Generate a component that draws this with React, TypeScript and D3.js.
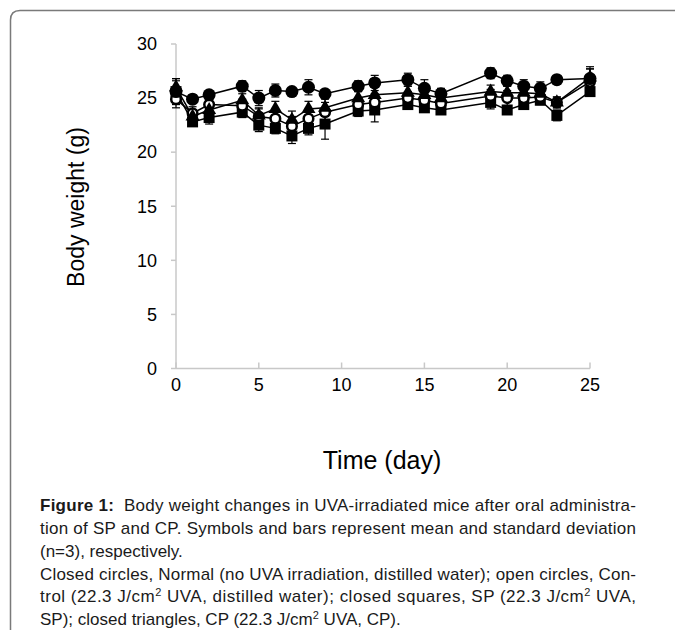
import React from 'react';
import * as d3 from 'd3';

const width = 675;
const height = 630;

const days = [0, 1, 2, 4, 5, 6, 7, 8, 9, 11, 12, 14, 15, 16, 19, 20, 21, 22, 23, 25];
const normal = [25.6, 24.9, 25.3, 26.1, 25.0, 25.7, 25.6, 26.0, 25.4, 26.1, 26.4, 26.7, 25.9, 25.4, 27.3, 26.6, 26.1, 25.9, 26.7, 26.8];
const normalSd = [1.2, 0.4, 0.4, 0.5, 0.7, 0.6, 0.3, 0.7, 0.4, 0.5, 0.7, 0.6, 0.8, 0.5, 0.5, 0.5, 0.6, 0.6, 0.3, 0.9];
const control = [24.9, 23.6, 24.4, 24.3, 23.3, 23.1, 22.4, 23.1, 23.7, 24.4, 24.6, 25.0, 24.8, 24.5, 25.2, 25.0, 25.0, 25.1, 24.6, 26.5];
const controlSd = [0.8, 0.6, 0.7, 0.6, 0.8, 0.7, 0.9, 0.7, 0.9, 0.6, 0.8, 0.6, 0.6, 0.7, 0.6, 0.7, 0.6, 0.6, 0.5, 1.2];
const sp = [25.6, 22.8, 23.2, 23.7, 22.5, 22.2, 21.5, 22.2, 22.6, 23.8, 23.9, 24.4, 24.1, 23.9, 24.6, 23.9, 24.4, 24.8, 23.4, 25.6];
const spSd = [1.0, 0.4, 0.6, 0.5, 0.6, 0.5, 0.7, 0.6, 1.4, 0.5, 1.1, 0.4, 0.4, 0.3, 0.6, 0.4, 0.4, 0.4, 0.5, 0.4];
const cp = [26.0, 23.3, 23.9, 24.8, 23.4, 24.0, 23.0, 24.0, 24.1, 25.0, 25.3, 25.5, 25.3, 25.0, 25.6, 25.5, 25.5, 25.4, 24.6, 26.9];
const cpSd = [0.8, 0.5, 0.5, 0.6, 0.6, 0.7, 0.8, 0.7, 0.8, 0.6, 0.7, 0.6, 0.7, 0.6, 0.6, 0.6, 0.6, 0.7, 0.5, 1.0];

const yTicks = [0, 5, 10, 15, 20, 25, 30];
const xTicks = [0, 5, 10, 15, 20, 25];

const axisColor = '#c8c8c8';
const font = '"Liberation Sans", Arial, sans-serif';
const capFont = '"Liberation Sans Narrow", "Arial Narrow", "Liberation Sans", sans-serif';

const x = d3.scaleLinear().domain([0, 25]).range([176, 590]);
const y = d3.scaleLinear().domain([0, 30]).range([368.5, 44]);

type Series = { name: string; values: number[]; sd: number[]; shape: 'circle' | 'open' | 'square' | 'triangle' };

const series: Series[] = [
  { name: 'SP', values: sp, sd: spSd, shape: 'square' },
  { name: 'Control', values: control, sd: controlSd, shape: 'open' },
  { name: 'CP', values: cp, sd: cpSd, shape: 'triangle' },
  { name: 'Normal', values: normal, sd: normalSd, shape: 'circle' },
];

const line = d3
  .line<number>()
  .x((_, i) => x(days[i]))
  .y((v) => y(v));

function Marker({ shape, cx, cy }: { shape: string; cx: number; cy: number }) {
  if (shape === 'square') {
    return <rect x={cx - 5.5} y={cy - 5.5} width={11} height={11} fill="#000" />;
  }
  if (shape === 'triangle') {
    return <path d={d3.symbol(d3.symbolTriangle, 85)() || ''} transform={`translate(${cx},${cy})`} fill="#000" />;
  }
  if (shape === 'open') {
    return <circle cx={cx} cy={cy} r={4.8} fill="#fff" stroke="#000" strokeWidth={2.5} />;
  }
  return <circle cx={cx} cy={cy} r={6.5} fill="#000" />;
}

type Part = { t: string; b?: boolean; sup?: boolean };

const captionLines: { y: number; w: number; parts: Part[] }[] = [
  { y: 511, w: 596, parts: [{ t: 'Figure 1:', b: true }, { t: '  Body weight changes in UVA-irradiated mice after oral administra-' }] },
  { y: 534, w: 596, parts: [{ t: 'tion of SP and CP. Symbols and bars represent mean and standard deviation' }] },
  { y: 557, w: 0, parts: [{ t: '(n=3), respectively.' }] },
  { y: 580, w: 596, parts: [{ t: 'Closed circles, Normal (no UVA irradiation, distilled water); open circles, Con-' }] },
  { y: 602, w: 596, parts: [{ t: 'trol (22.3 J/cm' }, { t: '2', sup: true }, { t: ' UVA, distilled water); closed squares, SP (22.3 J/cm' }, { t: '2', sup: true }, { t: ' UVA,' }] },
  { y: 625, w: 0, parts: [{ t: 'SP); closed triangles, CP (22.3 J/cm' }, { t: '2', sup: true }, { t: ' UVA, CP).' }] },
];

export default function App() {
  return (
    <svg width={width} height={height} style={{ position: 'absolute', left: 0, top: 0, background: '#fff' }}>
      {/* frame */}
      <path d="M 10.5 630 L 10.5 20 Q 10.5 10.5 20 10.5 L 675 10.5" fill="none" stroke="#7a7a7a" strokeWidth={1.5} />

      {/* axes */}
      <line x1={x(0)} x2={x(0)} y1={y(30)} y2={y(0)} stroke={axisColor} strokeWidth={1.5} />
      <line x1={x(0)} x2={x(25)} y1={y(0)} y2={y(0)} stroke={axisColor} strokeWidth={1.5} />
      {yTicks.map((t) => (
        <g key={`y${t}`}>
          <line x1={x(0) - 5} x2={x(0)} y1={y(t)} y2={y(t)} stroke={axisColor} strokeWidth={1.5} />
          <text x={157} y={y(t)} dy="0.35em" textAnchor="end" fontFamily={font} fontSize={18}>
            {t}
          </text>
        </g>
      ))}
      {xTicks.map((t) => (
        <g key={`x${t}`}>
          <line x1={x(t)} x2={x(t)} y1={y(0)} y2={y(0) - 6} stroke={axisColor} strokeWidth={1.5} />
          <text x={x(t)} y={391} textAnchor="middle" fontFamily={font} fontSize={18}>
            {t}
          </text>
        </g>
      ))}
      <text transform="translate(84,207) rotate(-90)" textAnchor="middle" fontFamily={font} fontSize={23}>
        Body weight (g)
      </text>
      <text x={382} y={469} textAnchor="middle" fontFamily={font} fontSize={25}>
        Time (day)
      </text>

      {/* lines */}
      {series.map((s) => (
        <path key={`l${s.name}`} d={line(s.values) || ''} fill="none" stroke="#000" strokeWidth={1.5} />
      ))}
      {/* error bars */}
      {series.map((s) =>
        s.values.map((v, i) => {
          const cx = x(days[i]);
          const top = y(v + s.sd[i]);
          const bot = y(v - s.sd[i]);
          return (
            <g key={`e${s.name}${i}`} stroke="#000" strokeWidth={1.2}>
              <line x1={cx} x2={cx} y1={top} y2={bot} />
              <line x1={cx - 4} x2={cx + 4} y1={top} y2={top} />
              <line x1={cx - 4} x2={cx + 4} y1={bot} y2={bot} />
            </g>
          );
        })
      )}
      {/* markers */}
      {series.map((s) =>
        s.values.map((v, i) => <Marker key={`m${s.name}${i}`} shape={s.shape} cx={x(days[i])} cy={y(v)} />)
      )}

      {/* caption */}
      {captionLines.map((l, k) => (
        <text
          key={`c${k}`}
          x={40}
          y={l.y}
          fontFamily={capFont}
          fontSize={17}
          fill="#1a1a1a"
          {...(l.w ? { textLength: l.w, lengthAdjust: 'spacing' } : {})}
        >
          {l.parts.map((p, j) => (
            <tspan
              key={j}
              fontWeight={p.b ? 'bold' : 'normal'}
              fontSize={p.sup ? 11 : 17}
              dy={p.sup ? -6 : j > 0 && l.parts[j - 1].sup ? 6 : 0}
              style={{ whiteSpace: 'pre' }}
            >
              {p.t}
            </tspan>
          ))}
        </text>
      ))}
    </svg>
  );
}
